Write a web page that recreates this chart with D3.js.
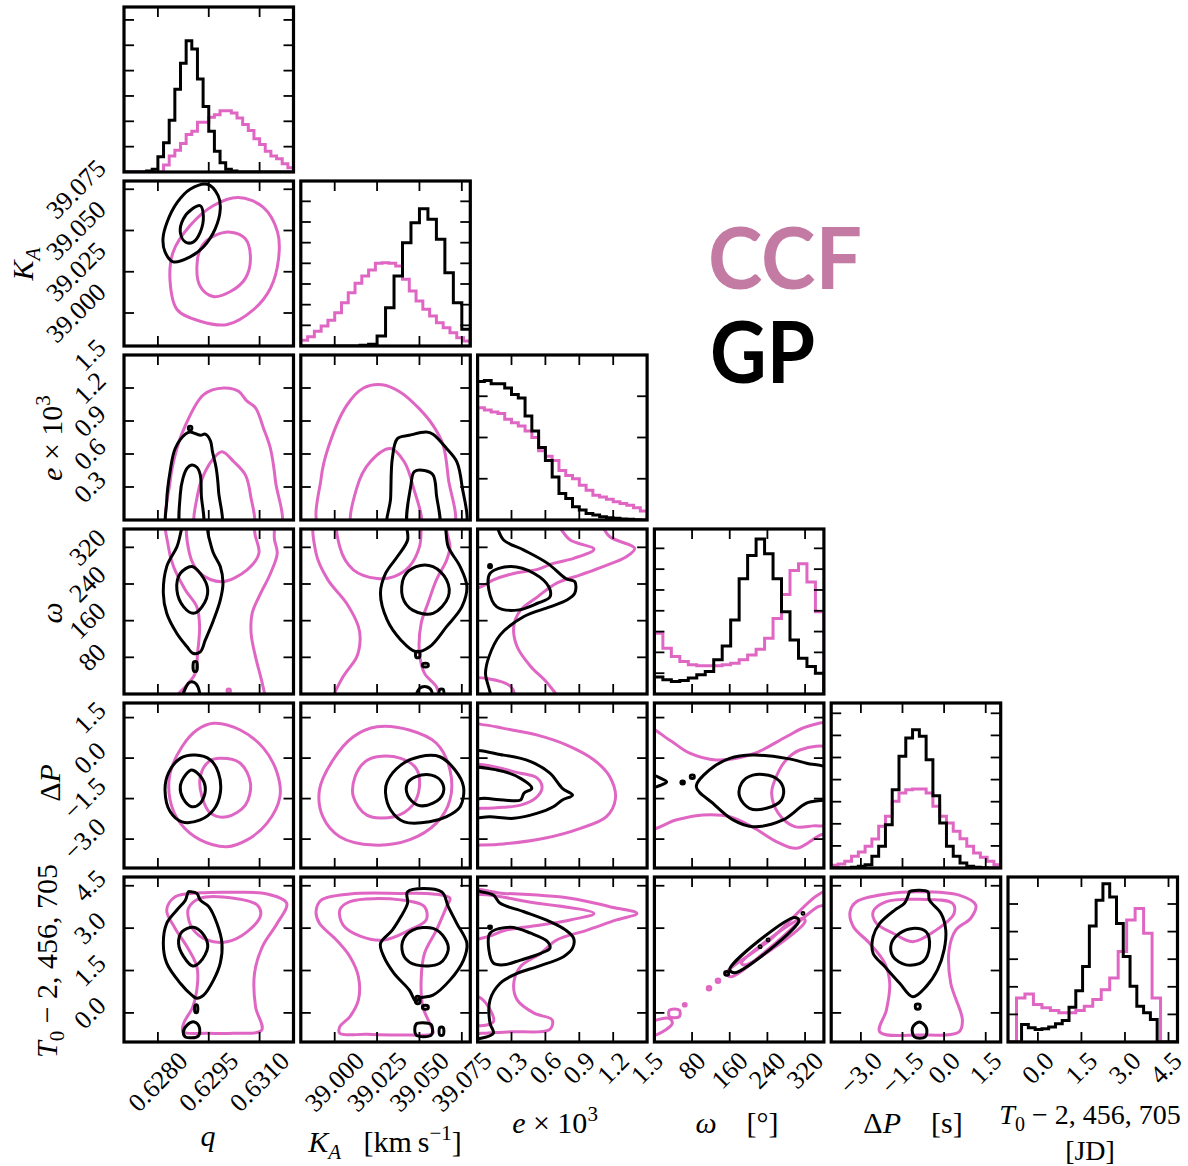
<!DOCTYPE html>
<html><head><meta charset="utf-8">
<script src="https://cdn.jsdelivr.net/npm/d3@7"></script>
<style>body{margin:0;background:#fff}</style>
</head><body>
<svg id="c" width="1188" height="1166" xmlns="http://www.w3.org/2000/svg"></svg>
<script>
// ---------------- DATA ----------------
const axisRanges = [[0.627,0.632],[38.98,39.08],[0,1.5],[0,360],[-4.07,2.04],[-1.03,4.81]];
const tickValues = [[0.628,0.6295,0.631],[39.0,39.025,39.05,39.075],[0.3,0.6,0.9,1.2,1.5],[80,160,240,320],[-3,-1.5,0,1.5],[0,1.5,3,4.5]];
const tickLabels = [["0.6280","0.6295","0.6310"],["39.000","39.025","39.050","39.075"],["0.3","0.6","0.9","1.2","1.5"],["80","160","240","320"],["−3.0","−1.5","0.0","1.5"],["0.0","1.5","3.0","4.5"]];

// 1D histograms (counts, bins spread evenly over the axis range)
const qGP   = [0,0,0,0,3,8,46,88,156,250,328,396,371,281,198,123,63,28,8,3,0,0,0,0,0,0,0,0,0,0];
const qCCF  = [0,0,0,0,0,0,0,21,48,66,86,113,123,150,150,165,173,185,185,178,163,143,125,100,83,63,48,40,25,13];
const kaGP  = [0,0,0,0,0,0,0,2,5,30,115,210,310,370,412,380,320,220,130,50];
const kaCCF = [17,28,44,60,77,100,130,160,188,210,228,248,250,248,240,200,165,135,110,90,70,55,40,25,15];
const eGP   = [420,423,413,413,400,380,370,315,270,220,180,130,80,65,40,30,20,15,10,7,5,3,2,1,0];
const eCCF  = [340,333,327,323,305,295,285,270,250,210,193,180,150,135,125,105,90,75,70,63,55,50,45,37,27];
const wGP   = [51,43,38,41,48,58,68,103,145,223,348,418,468,423,348,248,163,108,83,63];
const wCCF  = [183,138,113,98,88,85,85,85,88,93,103,118,135,168,228,300,373,393,338,248];
const dpGP  = [0,0,0,2,5,10,35,65,130,235,335,390,415,395,325,217,135,65,35,15,5,2,1,0,0];
const dpCCF = [8,12,20,35,48,65,87,125,155,200,225,235,237,237,225,185,155,135,110,88,65,45,32,20,10];
const t0GP  = [0,0,53,43,38,40,45,55,65,105,155,228,350,428,478,438,358,258,168,108,88,68,0,0,0];
const t0CCF = [0,133,145,113,103,95,88,88,95,108,128,158,193,273,368,403,328,133,0,0];
const histGP  = [qGP, kaGP, eGP, wGP, dpGP, t0GP];
const histCCF = [qCCF, kaCCF, eCCF, wCCF, dpCCF, t0CCF];
const histMax  = [498, 495, 500, 498, 495, 498];
const histTick = [76.5, 62, 125, 62.8, 66.3, 83.3];

// 2D contour levels, [x, y] in data units; first rings are outer, then inner, then small islands
const c10 = {gp:[
 [[0.62946,39.078],[0.62978,39.071],[0.62984,39.063],[0.62969,39.051],[0.62934,39.040],[0.62895,39.034],[0.62845,39.031],[0.62821,39.037],[0.62815,39.045],[0.62827,39.055],[0.62857,39.067],[0.62895,39.075]],
 [[0.62925,39.065],[0.62934,39.059],[0.62925,39.049],[0.62904,39.043],[0.62881,39.043],[0.62866,39.049],[0.62875,39.057],[0.62901,39.063]]],
 ccf:[
 [[0.63037,39.070],[0.63111,39.064],[0.63153,39.049],[0.63156,39.033],[0.63132,39.015],[0.63082,39.002],[0.63005,38.993],[0.62925,38.995],[0.62857,39.002],[0.62836,39.019],[0.62845,39.037],[0.62895,39.053],[0.62963,39.065]],
 [[0.63014,39.049],[0.63058,39.045],[0.63073,39.033],[0.63058,39.021],[0.63014,39.013],[0.62963,39.010],[0.62925,39.016],[0.62916,39.031],[0.62931,39.041],[0.62969,39.047]]]};
const c20 = {gp:[
 [[0.62831,-0.1],[0.62826,0.17],[0.62836,0.44],[0.62851,0.65],[0.62881,0.78],[0.62895,0.80],[0.62925,0.77],[0.62940,0.78],[0.62955,0.72],[0.62961,0.62],[0.62972,0.47],[0.62979,0.26],[0.62982,-0.1]],
 [[0.62871,-0.1],[0.62866,0.23],[0.62874,0.38],[0.62886,0.47],[0.62900,0.50],[0.62915,0.48],[0.62925,0.41],[0.62928,0.23],[0.62930,-0.1]],
 [[0.62891,0.82],[0.62899,0.82],[0.62899,0.85],[0.62891,0.85]]],
 ccf:[
 [[0.62836,-0.1],[0.62836,0.35],[0.62856,0.65],[0.62881,0.86],[0.62935,1.14],[0.62994,1.20],[0.63038,1.17],[0.63063,1.08],[0.63088,1.02],[0.63112,0.83],[0.63132,0.65],[0.63147,0.35],[0.63157,-0.1]],
 [[0.62915,-0.1],[0.62917,0.23],[0.62935,0.41],[0.62964,0.56],[0.62989,0.62],[0.63024,0.53],[0.63058,0.41],[0.63073,0.23],[0.63078,-0.1]]]};
const c30 = {gp:[
 [[0.62886,385],[0.62856,321],[0.62826,278],[0.62816,220],[0.62826,176],[0.62856,132],[0.62886,103],[0.62903,89],[0.62925,92],[0.62940,118],[0.62964,161],[0.62984,205],[0.62992,242],[0.62984,278],[0.62964,307],[0.62950,343],[0.62935,385]],
 [[0.62900,278],[0.62925,263],[0.62947,227],[0.62930,190],[0.62905,176],[0.62876,190],[0.62856,227],[0.62866,263]],
 [[0.62906,70],[0.62914,70],[0.62914,50],[0.62906,50]],
 [[0.62875,-12],[0.62884,17],[0.62895,26],[0.62913,22],[0.62922,-12]]],
 ccf:[
 [[0.62831,390],[0.62831,321],[0.62846,278],[0.62881,227],[0.62915,190],[0.62923,147],[0.62917,89],[0.62910,45],[0.62886,20],[0.62851,-9],[0.62851,-20],[0.63117,-20],[0.63117,-9],[0.63103,38],[0.63088,81],[0.63075,132],[0.63078,176],[0.63098,212],[0.63132,263],[0.63152,307],[0.63144,336],[0.63132,390]],
 [[0.62897,390],[0.62893,307],[0.62925,263],[0.62989,245],[0.63063,271],[0.63098,307],[0.63088,343],[0.63068,390]],
 [[0.63005,4],[0.63013,4],[0.63013,10],[0.63005,10]]]};
const c40 = {gp:[
 [[0.62910,0.11],[0.62955,-0.07],[0.62979,-0.56],[0.62984,-1.30],[0.62964,-1.92],[0.62925,-2.29],[0.62871,-2.36],[0.62836,-1.98],[0.62821,-1.18],[0.62831,-0.56],[0.62866,-0.01]],
 [[0.62900,-0.44],[0.62930,-0.75],[0.62940,-1.18],[0.62925,-1.67],[0.62900,-1.80],[0.62874,-1.49],[0.62866,-1.06],[0.62881,-0.63]]],
 ccf:[
 [[0.62964,1.29],[0.63043,1.04],[0.63112,0.36],[0.63152,-0.56],[0.63160,-1.43],[0.63122,-2.41],[0.63063,-3.03],[0.63004,-3.28],[0.62925,-3.03],[0.62866,-2.41],[0.62836,-1.55],[0.62836,-0.56],[0.62871,0.42],[0.62915,1.04]],
 [[0.62984,-0.01],[0.63043,-0.19],[0.63073,-0.93],[0.63058,-1.74],[0.63004,-2.17],[0.62955,-2.04],[0.62930,-1.43],[0.62925,-0.69],[0.62950,-0.13]]]};
const c50 = {gp:[
 [[0.62895,4.29],[0.62915,4.23],[0.62925,3.99],[0.62950,3.76],[0.62974,3.17],[0.62989,2.46],[0.62984,1.76],[0.62964,1.16],[0.62935,0.63],[0.62915,0.52],[0.62900,0.63],[0.62866,1.05],[0.62826,1.76],[0.62816,2.46],[0.62826,3.17],[0.62856,3.64],[0.62881,3.99],[0.62890,4.29]],
 [[0.62905,3.03],[0.62935,2.76],[0.62947,2.34],[0.62925,1.81],[0.62903,1.66],[0.62876,1.99],[0.62861,2.46],[0.62871,2.87]],
 [[0.62910,0.28],[0.62916,0.28],[0.62916,0.02],[0.62910,0.02]],
 [[0.62875,-0.68],[0.62886,-0.43],[0.62907,-0.32],[0.62922,-0.50],[0.62919,-0.82],[0.62881,-0.85]]],
 ccf:[
 [[0.62826,3.64],[0.62851,4.11],[0.62925,4.25],[0.63024,4.27],[0.63122,4.21],[0.63180,3.88],[0.63152,3.17],[0.63108,2.34],[0.63085,1.40],[0.63088,0.22],[0.63106,-0.61],[0.63024,-0.72],[0.62945,-0.72],[0.62874,-0.67],[0.62876,-0.37],[0.62903,0.22],[0.62917,1.05],[0.62915,1.64],[0.62886,2.34],[0.62851,2.99]],
 [[0.62890,3.70],[0.62925,4.06],[0.63024,4.06],[0.63093,3.82],[0.63103,3.46],[0.63063,2.87],[0.63004,2.52],[0.62945,2.58],[0.62905,2.93],[0.62890,3.35]]]};
const c21 = {gp:[
 [[39.032,-0.1],[39.033,0.20],[39.034,0.56],[39.037,0.74],[39.044,0.77],[39.054,0.80],[39.058,0.78],[39.066,0.65],[39.072,0.53],[39.075,0.32],[39.076,-0.1]],
 [[39.044,-0.1],[39.045,0.32],[39.047,0.44],[39.053,0.45],[39.058,0.41],[39.060,0.23],[39.061,-0.1]]],
 ccf:[
 [[38.992,-0.1],[38.992,0.38],[38.996,0.65],[39.007,1.04],[39.017,1.20],[39.028,1.23],[39.039,1.16],[39.050,1.01],[39.058,0.86],[39.064,0.68],[39.067,0.38],[39.069,-0.1]],
 [[39.011,-0.1],[39.013,0.29],[39.021,0.53],[39.033,0.65],[39.041,0.53],[39.046,0.32],[39.050,-0.1]]]};
const c31 = {gp:[
 [[39.043,385],[39.063,385],[39.067,321],[39.074,278],[39.078,234],[39.075,190],[39.066,147],[39.056,103],[39.048,92],[39.039,118],[39.031,161],[39.027,220],[39.030,263],[39.037,300],[39.043,336]],
 [[39.048,278],[39.058,278],[39.066,249],[39.067,212],[39.058,176],[39.046,183],[39.040,212],[39.041,256]],
 [[39.052,60],[39.055,60],[39.055,66],[39.052,66]],
 [[39.048,80],[39.050,80],[39.050,92],[39.048,92]],
 [[39.048,-12],[39.050,12],[39.054,16],[39.057,8],[39.057,-12]],
 [[39.062,-12],[39.064,-12],[39.064,10],[39.062,10]]],
 ccf:[
 [[38.990,390],[38.989,307],[38.996,249],[39.007,198],[39.014,147],[39.015,118],[39.013,81],[39.005,38],[38.999,-9],[38.999,-20],[39.062,-20],[39.062,-9],[39.060,16],[39.053,45],[39.050,89],[39.051,154],[39.055,198],[39.060,249],[39.066,292],[39.068,321],[39.066,358],[39.066,390]],
 [[39.003,390],[39.003,321],[39.011,271],[39.025,252],[39.035,256],[39.044,278],[39.050,321],[39.051,358],[39.051,390]]]};
const c41 = {gp:[
 [[39.031,-0.87],[39.039,-0.26],[39.050,0.05],[39.062,0.05],[39.071,-0.44],[39.076,-1.06],[39.074,-1.80],[39.066,-2.17],[39.056,-2.36],[39.041,-2.36],[39.033,-1.92],[39.030,-1.30]],
 [[39.043,-0.93],[39.048,-0.69],[39.057,-0.63],[39.063,-0.87],[39.064,-1.30],[39.058,-1.67],[39.049,-1.74],[39.043,-1.37]]],
 ccf:[
 [[39.025,1.16],[39.044,1.04],[39.060,0.55],[39.068,-0.44],[39.068,-1.55],[39.060,-2.41],[39.044,-3.03],[39.023,-3.22],[39.003,-2.91],[38.993,-2.17],[38.991,-1.18],[38.999,-0.07],[39.011,0.79]],
 [[39.025,0.05],[39.039,-0.01],[39.048,-0.38],[39.050,-1.06],[39.046,-1.74],[39.035,-2.17],[39.019,-2.11],[39.011,-1.43],[39.012,-0.69],[39.018,-0.13]]]};
const c51 = {gp:[
 [[39.043,4.29],[39.063,4.29],[39.067,3.76],[39.072,3.17],[39.078,2.46],[39.076,1.87],[39.068,1.16],[39.058,0.63],[39.050,0.52],[39.048,0.40],[39.044,0.81],[39.035,1.40],[39.029,1.99],[39.027,2.46],[39.034,2.93],[39.039,3.40],[39.043,3.88]],
 [[39.046,2.93],[39.058,2.99],[39.065,2.64],[39.067,2.23],[39.062,1.76],[39.048,1.70],[39.041,1.99],[39.040,2.52]],
 [[39.048,0.34],[39.050,0.34],[39.050,0.57],[39.048,0.57]],
 [[39.052,0.15],[39.055,0.15],[39.055,0.25],[39.052,0.25]],
 [[39.048,-0.78],[39.048,-0.40],[39.052,-0.35],[39.057,-0.42],[39.057,-0.78]],
 [[39.062,-0.78],[39.064,-0.78],[39.064,-0.52],[39.062,-0.52]]],
 ccf:[
 [[38.989,3.58],[38.992,3.99],[39.009,4.21],[39.039,4.23],[39.058,4.21],[39.068,4.06],[39.066,3.76],[39.060,2.93],[39.053,2.11],[39.051,1.16],[39.052,0.22],[39.056,-0.37],[39.058,-0.71],[39.039,-0.78],[39.019,-0.76],[39.003,-0.72],[39.003,-0.49],[39.009,-0.13],[39.014,0.46],[39.014,1.28],[39.009,1.99],[39.001,2.58],[38.991,3.17]],
 [[39.003,3.64],[39.009,3.94],[39.039,4.00],[39.053,3.76],[39.054,3.29],[39.044,2.93],[39.029,2.58],[39.015,2.72],[39.005,3.11]]]};
const c32 = {gp:[
 [[-0.1,385],[0.12,385],[0.23,336],[0.41,314],[0.62,285],[0.78,252],[0.86,245],[0.86,220],[0.79,205],[0.64,190],[0.41,169],[0.20,129],[0.10,81],[0.07,45],[0.11,-15],[-0.1,-15]],
 [[0.11,263],[0.29,278],[0.50,263],[0.63,234],[0.64,212],[0.53,198],[0.35,183],[0.17,190],[0.10,227]],
 [[0.10,276],[0.12,276],[0.12,282],[0.10,282]]],
 ccf:[
 [[-0.1,385],[1.03,385],[1.17,343],[1.39,318],[1.32,300],[1.11,278],[0.91,260],[0.70,242],[0.53,212],[0.38,183],[0.32,147],[0.35,103],[0.47,60],[0.62,23],[0.71,-15],[-0.1,-15]],
 [[-0.1,385],[0.63,385],[0.82,336],[1.03,316],[0.85,296],[0.67,285],[0.53,272],[0.32,263],[0.14,249],[0.03,234],[-0.1,231]],
 [[-0.1,31],[0.29,17],[0.32,-15],[-0.1,-15]]]};
const c42 = {gp:[
 [[-0.1,0.18],[0.23,0.11],[0.47,-0.13],[0.64,-0.56],[0.75,-1.12],[0.84,-1.37],[0.75,-1.55],[0.67,-1.80],[0.53,-2.04],[0.32,-2.23],[0.11,-2.17],[-0.1,-2.14]],
 [[-0.1,-0.42],[0.17,-0.44],[0.38,-0.75],[0.48,-1.12],[0.41,-1.30],[0.38,-1.55],[0.23,-1.55],[0.06,-1.49],[-0.1,-1.49]]],
 ccf:[
 [[-0.1,1.23],[0.06,1.23],[0.23,1.10],[0.53,0.85],[0.79,0.48],[1.03,-0.07],[1.17,-0.69],[1.22,-1.49],[1.14,-2.17],[0.91,-2.60],[0.59,-2.97],[0.23,-3.18],[0.03,-3.22],[-0.1,-3.22]],
 [[-0.1,-0.32],[0.38,-0.56],[0.53,-0.75],[0.57,-1.12],[0.51,-1.49],[0.38,-1.74],[0.23,-1.82],[0.03,-1.86],[-0.1,-1.86]]]};
const c52 = {gp:[
 [[-0.1,4.35],[0.03,4.29],[0.14,4.17],[0.20,3.88],[0.41,3.58],[0.64,3.23],[0.78,2.93],[0.85,2.64],[0.84,2.29],[0.76,1.99],[0.53,1.64],[0.35,1.40],[0.20,1.05],[0.11,0.46],[0.11,-0.37],[0.14,-0.72],[0.03,-0.90],[-0.1,-0.90]],
 [[0.11,2.82],[0.29,3.03],[0.47,2.82],[0.62,2.52],[0.64,2.29],[0.56,2.11],[0.38,1.87],[0.23,1.70],[0.14,1.76],[0.10,2.23]],
 [[0.10,3.00],[0.12,3.00],[0.12,3.07],[0.10,3.07]]],
 ccf:[
 [[-0.1,4.25],[0.23,4.23],[0.82,4.06],[1.17,3.76],[1.41,3.52],[1.23,3.29],[0.97,2.93],[0.70,2.58],[0.56,2.11],[0.38,1.64],[0.32,1.05],[0.35,0.46],[0.50,-0.01],[0.66,-0.25],[0.64,-0.58],[0.29,-0.67],[0.03,-0.72],[-0.1,-0.72]],
 [[-0.1,4.06],[0.53,3.88],[1.03,3.52],[0.82,3.29],[0.62,3.15],[0.41,3.03],[0.23,2.91],[0.09,2.70],[-0.1,2.64]],
 [[-0.1,0.57],[0.03,0.52],[0.14,-0.31],[-0.1,-0.37]]]};
const c43 = {gp:[
 [[89,-1.06],[117,-0.44],[160,-0.01],[209,0.11],[280,-0.01],[323,-0.19],[375,-0.44],[375,-1.43],[323,-1.67],[273,-2.29],[209,-2.54],[167,-2.29],[124,-1.67]],
 [[209,-0.63],[252,-0.69],[273,-1.06],[270,-1.55],[238,-1.86],[202,-1.86],[181,-1.43],[185,-0.93]],
 [[-8,-0.63],[14,-0.75],[26,-0.88],[14,-1.0],[-8,-1.08]],
 [[57,-0.86],[63,-0.86],[63,-0.95],[57,-0.95]],
 [[77,-0.64],[84,-0.64],[84,-0.74],[77,-0.74]]],
 ccf:[
 [[-15,1.10],[32,0.67],[75,0.18],[131,-0.07],[209,0.15],[280,0.79],[323,1.16],[375,1.23],[375,-2.73],[352,-2.85],[302,-3.34],[260,-3.10],[209,-2.56],[160,-2.17],[103,-2.11],[46,-2.29],[-15,-2.60]],
 [[375,0.33],[309,0.30],[277,-0.13],[256,-0.81],[249,-1.30],[263,-2.04],[298,-2.54],[337,-2.51],[375,-2.41]]]};
const c53 = {gp:[
 [[160,1.54],[298,3.38],[307,3.26],[170,1.42]],
 [[150,1.35],[157,1.35],[157,1.45],[150,1.45]],
 [[223,2.32],[226,2.32],[226,2.37],[223,2.37]],
 [[240,2.56],[243,2.56],[243,2.61],[240,2.61]],
 [[314,3.50],[317,3.50],[317,3.55],[314,3.55]]],
 ccf:[
 [[-15,-0.43],[31,-0.19],[38,-0.37],[4,-0.78],[-15,-0.84]],
 [[153,1.40],[245,2.58],[344,4.14],[375,4.37],[375,3.88],[348,3.76],[252,2.40],[163,1.28]],
 [[185,1.76],[316,3.35],[320,3.23],[192,1.70]],
 [[32,-0.13],[53,-0.13],[53,0.10],[32,0.10]],
 [[62,0.25],[67,0.25],[67,0.32],[62,0.32]],
 [[113,0.82],[119,0.82],[119,0.92],[113,0.92]],
 [[132,1.09],[138,1.09],[138,1.19],[132,1.19]]]};
const c54 = {gp:[
 [[-1.25,4.29],[-0.59,4.29],[-0.53,3.99],[-0.11,3.52],[0.06,2.93],[0.00,2.23],[-0.24,1.52],[-0.65,0.93],[-1.13,0.57],[-1.60,1.05],[-2.14,1.64],[-2.56,2.11],[-2.56,2.70],[-2.32,3.17],[-1.78,3.64],[-1.43,3.88],[-1.27,4.23]],
 [[-1.13,2.99],[-0.65,2.87],[-0.53,2.34],[-0.77,1.81],[-1.37,1.70],[-1.84,1.99],[-1.90,2.46],[-1.60,2.82]],
 [[-1.02,0.15],[-0.88,0.15],[-0.88,0.30],[-1.02,0.30]],
 [[-1.07,-0.85],[-1.14,-0.53],[-0.89,-0.32],[-0.64,-0.53],[-0.68,-0.85]]],
 ccf:[
 [[-3.39,3.58],[-3.15,3.94],[-2.08,4.21],[-0.89,4.29],[0.54,4.17],[1.14,3.82],[0.96,3.35],[0.42,2.93],[0.18,2.23],[0.24,1.05],[0.66,-0.25],[0.54,-0.67],[-0.89,-0.78],[-2.32,-0.67],[-2.08,0.10],[-1.96,1.05],[-2.14,1.76],[-2.68,2.46],[-3.27,3.05]],
 [[-2.56,3.58],[-2.08,3.94],[-0.89,4.02],[0.30,3.88],[0.36,3.52],[-0.29,2.93],[-1.13,2.52],[-1.84,2.82],[-2.44,3.17]]]};
const contours = {"1,0":c10,"2,0":c20,"3,0":c30,"4,0":c40,"5,0":c50,"2,1":c21,"3,1":c31,"4,1":c41,"5,1":c51,"3,2":c32,"4,2":c42,"5,2":c52,"4,3":c43,"5,3":c53,"5,4":c54};
const legendLabels = ["CCF","GP"];

// ---------------- LAYOUT ----------------
const svg = d3.select("#c");
const PINK = "#e066c4", BLACK = "#000";
const left0 = 124, top0 = 7, pw = 169.5, ph = 165, sx = 176.8, sy = 174;
const colX = i => left0 + i*sx, rowY = j => top0 + j*sy;
const xS = axisRanges.map((r,i)=>d3.scaleLinear().domain(r).range([colX(i), colX(i)+pw]));
const yS = axisRanges.map((r,j)=>d3.scaleLinear().domain(r).range([rowY(j)+ph, rowY(j)]));
const defs = svg.append("defs");
const TICK = 10, LW = 3;

function panel(i,j){
  const id = `clip${j}${i}`;
  defs.append("clipPath").attr("id",id).append("rect")
    .attr("x",colX(i)).attr("y",rowY(j)).attr("width",pw).attr("height",ph);
  return svg.append("g").attr("clip-path",`url(#${id})`);
}
function ticks(i,j,yvals,ys){
  const g = svg.append("g").attr("stroke","#000").attr("stroke-width",1.8);
  const x0 = colX(i), y0 = rowY(j);
  tickValues[i].forEach(v=>{
    const x = xS[i](v);
    g.append("line").attr("x1",x).attr("x2",x).attr("y1",y0+ph).attr("y2",y0+ph-TICK);
    g.append("line").attr("x1",x).attr("x2",x).attr("y1",y0).attr("y2",y0+TICK);
  });
  yvals.forEach(v=>{
    const y = ys(v);
    g.append("line").attr("x1",x0).attr("x2",x0+TICK).attr("y1",y).attr("y2",y);
    g.append("line").attr("x1",x0+pw).attr("x2",x0+pw-TICK).attr("y1",y).attr("y2",y);
  });
}
function border(i,j){
  svg.append("rect").attr("x",colX(i)).attr("y",rowY(j)).attr("width",pw).attr("height",ph)
    .attr("fill","none").attr("stroke","#000").attr("stroke-width",3.2);
}

// histograms on diagonal
for(let i=0;i<6;i++){
  const g = panel(i,i);
  const ys = d3.scaleLinear().domain([0,histMax[i]]).range([rowY(i)+ph, rowY(i)]);
  [[histCCF[i],PINK],[histGP[i],BLACK]].forEach(([counts,col])=>{
    const r = axisRanges[i], n = counts.length, w = (r[1]-r[0])/n;
    const pts = [[r[0],0]];
    counts.forEach((c,k)=>{ pts.push([r[0]+k*w,c]); pts.push([r[0]+(k+1)*w,c]); });
    pts.push([r[1],0]);
    g.append("path").attr("d", d3.line().x(d=>xS[i](d[0])).y(d=>ys(d[1]))(pts))
      .attr("fill","none").attr("stroke",col).attr("stroke-width",LW).attr("stroke-linejoin","miter");
  });
  ticks(i,i,d3.range(histTick[i], histMax[i]-1, histTick[i]), ys);
  border(i,i);
}

// 2D panels
Object.entries(contours).forEach(([key,c])=>{
  const [j,i] = key.split(",").map(Number);
  const g = panel(i,j);
  const line = d3.line().x(d=>xS[i](d[0])).y(d=>yS[j](d[1])).curve(d3.curveCatmullRomClosed.alpha(0.5));
  [[c.ccf,PINK],[c.gp,BLACK]].forEach(([polys,col])=>{
    polys.forEach(p=>{
      g.append("path").attr("d",line(p)).attr("fill","none").attr("stroke",col)
        .attr("stroke-width",LW).attr("stroke-linejoin","round");
    });
  });
  ticks(i,j,tickValues[j],yS[j]);
  border(i,j);
});

// tick labels
const TF = "'Liberation Serif', 'DejaVu Serif', serif", TFS = 26;
const R2 = Math.SQRT2;
for(let i=0;i<6;i++){
  tickValues[i].forEach((v,k)=>{
    const t = svg.append("text").text(tickLabels[i][k]).attr("font-family",TF).attr("font-size",TFS)
      .attr("text-anchor","middle").attr("dominant-baseline","central");
    const L = t.node().getComputedTextLength(), half = (L + 0.72*TFS)/(2*R2);
    const cx = Math.min(xS[i](v), 1184 - half);
    t.attr("transform",`translate(${cx},${rowY(5)+ph+8+half}) rotate(-45)`);
  });
}
for(let j=1;j<6;j++){
  tickValues[j].forEach((v,k)=>{
    const t = svg.append("text").text(tickLabels[j][k]).attr("font-family",TF).attr("font-size",TFS)
      .attr("text-anchor","middle").attr("dominant-baseline","central");
    const L = t.node().getComputedTextLength(), half = (L + 0.72*TFS)/(2*R2);
    t.attr("transform",`translate(${colX(0)-16-half},${yS[j](v)}) rotate(-45)`);
  });
}

// axis labels
const AFS = 30;
function label(x,y,rot,parts,fs){
  const t = svg.append("text").attr("font-family",TF).attr("font-size",fs||AFS).attr("text-anchor","middle")
    .attr("transform",`translate(${x},${y}) rotate(${rot})`).attr("xml:space","preserve");
  parts.forEach(p=>{
    const s = t.append("tspan").text(p.t);
    if(p.i) s.attr("font-style","italic");
    if(p.fs) s.attr("font-size",p.fs);
    if(p.dy) s.attr("dy",p.dy);
  });
  return t;
}
const sub = (s)=>({t:s,i:true,fs:21,dy:7});
// x labels
label(208,1146,0,[{t:"q",i:true}]);
label(385,1152,0,[{t:"K",i:true},sub("A"),{t:"   [km\u2009s",dy:-7},{t:"−1",fs:21,dy:-12},{t:"]",dy:12}]);
label(555,1133,0,[{t:"e",i:true},{t:" × 10"},{t:"3",fs:21,dy:-12}]);
label(737,1133,0,[{t:"ω",i:true},{t:"    [°]"}]);
label(913,1133,0,[{t:"Δ"},{t:"P",i:true},{t:"    [s]"}]);
label(1090,1124,0,[{t:"T",i:true},{t:"0",fs:20,dy:7},{t:" − 2, 456, 705",dy:-7}],28);
label(1090,1160,0,[{t:"[JD]"}],28);
// y labels
label(33,264,-90,[{t:"K",i:true},sub("A")]);
label(62,438,-90,[{t:"e",i:true},{t:" × 10"},{t:"3",fs:21,dy:-12}]);
label(62,613,-90,[{t:"ω",i:true}]);
label(60,783,-90,[{t:"Δ"},{t:"P",i:true}]);
label(57,961,-90,[{t:"T",i:true},{t:"0",fs:21,dy:7},{t:" − 2, 456, 705",dy:-7}]);

// legend
svg.append("text").attr("x",708).attr("y",289).text(legendLabels[0])
  .attr("font-family","Lato, 'Open Sans', sans-serif").attr("font-weight","bold").attr("font-size",86)
  .attr("fill","#c47ba3").attr("textLength",154).attr("lengthAdjust","spacingAndGlyphs");
svg.append("text").attr("x",710).attr("y",383).text(legendLabels[1])
  .attr("font-family","Lato, 'Open Sans', sans-serif").attr("font-weight","bold").attr("font-size",86)
  .attr("fill","#000").attr("textLength",105).attr("lengthAdjust","spacingAndGlyphs");
</script>
</body></html>
